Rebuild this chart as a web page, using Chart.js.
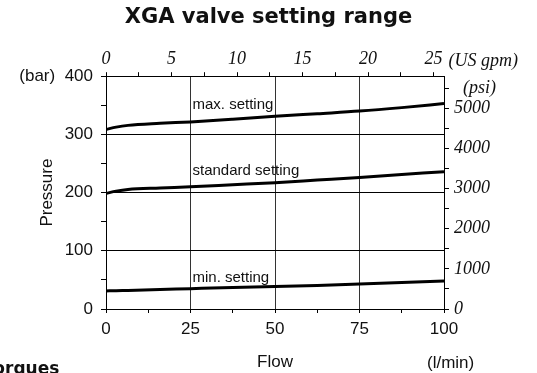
<!DOCTYPE html>
<html>
<head>
<meta charset="utf-8">
<title>XGA valve setting range</title>
<script src="https://cdn.jsdelivr.net/npm/chart.js@4.4.1/dist/chart.umd.min.js"></script>
<style>
  html, body { margin: 0; padding: 0; background: #fff; }
  #wrap { width: 537px; height: 373px; }
</style>
</head>
<body>
<div id="wrap"><canvas id="rangeChart" width="537" height="373"></canvas></div>
<script>
// Flow (l/min) sample points and pressure (bar) for each setting curve
const flowPoints = [0, 3, 6.5, 16, 25, 37.5, 50, 62.5, 75, 87.5, 100];
const maxSetting = [308.5, 312.5, 315.5, 319, 321.5, 326, 331, 335.5, 340, 346, 353];
const standardSetting = [198.5, 202.5, 205.5, 208, 210, 213.5, 217, 221.5, 226, 231, 236];
const minSetting = [31, 31.5, 32, 33.5, 35, 37, 38.5, 40.5, 43, 45.5, 48];

// Tick positions and the ones that carry a label
const flowTicks = [0, 12.5, 25, 37.5, 50, 62.5, 75, 87.5, 100];
const flowLabels = [0, 25, 50, 75, 100];
const barTicks = [0, 50, 100, 150, 200, 250, 300, 350, 400];
const barLabels = [0, 100, 200, 300, 400];
const gpmTicks = [0, 2.5, 5, 7.5, 10, 12.5, 15, 17.5, 20, 22.5, 25];
const gpmLabels = [0, 5, 10, 15, 20, 25];
const psiTicks = [0, 500, 1000, 1500, 2000, 2500, 3000, 3500, 4000, 4500, 5000, 5500];
const psiLabels = [0, 1000, 2000, 3000, 4000, 5000];
const gridFlow = [25, 50, 75];
const gridBar = [100, 200, 300];

// Secondary units: top axis as printed on the sheet, right axis from bar
const gpmAtMaxFlow = 25.8;
const psiAtMaxBar = 400 / 0.0689476;

// Curve captions, anchored in data units (flow, bar)
const curveNames = ['max. setting', 'standard setting', 'min. setting'];
const captionFlow = [25, 25, 25];
const captionBar = [343, 230, 47];

const INK = '#111';
const sans = '"Liberation Sans", Arial, Helvetica, sans-serif';
const serif = '"Liberation Serif", "Times New Roman", serif';

function toPoints(ys) {
    return flowPoints.map((x, i) => ({ x: x, y: ys[i] }));
}

function curve(label, ys) {
    return {
        label: label,
        data: toPoints(ys),
        borderColor: '#000',
        borderWidth: 3,
        pointRadius: 0,
        cubicInterpolationMode: 'monotone',
        fill: false,
        xAxisID: 'x',
        yAxisID: 'y'
    };
}

// replace generated ticks with a fixed list
function useTicks(values) {
    return function (scale) {
        scale.ticks = values.map(v => ({ value: v }));
    };
}

function fixed(size, horizontal) {
    return function (scale) {
        if (horizontal) scale.height = size; else scale.width = size;
    };
}

const captions = {
    id: 'captions',
    afterDraw(chart) {
        const { ctx, scales } = chart;
        ctx.save();
        ctx.fillStyle = INK;
        ctx.textAlign = 'left';
        ctx.textBaseline = 'alphabetic';

        ctx.font = '15px ' + sans;
        curveNames.forEach((name, i) => {
            ctx.fillText(name,
                scales.x.getPixelForValue(captionFlow[i]) + 2,
                scales.y.getPixelForValue(captionBar[i]));
        });

        ctx.font = '17px ' + sans;
        ctx.fillText('(l/min)', scales.x.right - 17, 368);

        ctx.font = 'italic 18px ' + serif;
        ctx.fillText('(US gpm)', scales.x2.getPixelForValue(25) + 15, 66);

        // heading of the next section, cut off by the page edge
        ctx.font = 'bold 17px "DejaVu Sans", Verdana, sans-serif';
        ctx.fillText('Torques', -16, 374);
        ctx.restore();
    }
};

new Chart(document.getElementById('rangeChart'), {
    type: 'line',
    data: {
        datasets: [
            curve('max. setting', maxSetting),
            curve('standard setting', standardSetting),
            curve('min. setting', minSetting)
        ]
    },
    options: {
        responsive: false,
        animation: false,
        devicePixelRatio: 1,
        layout: { padding: 0 },
        plugins: {
            legend: { display: false },
            tooltip: { enabled: false },
            title: {
                display: true,
                text: 'XGA valve setting range',
                color: INK,
                font: { family: '"DejaVu Sans", Verdana, sans-serif', size: 21, weight: 'bold', lineHeight: 1.2 },
                padding: { top: 5, bottom: 6 }
            }
        },
        scales: {
            x: {
                type: 'linear',
                position: 'bottom',
                min: 0,
                max: 100,
                afterBuildTicks: useTicks(flowTicks),
                afterFit: fixed(64, true),
                border: { display: true, color: '#000', width: 1 },
                grid: {
                    color: ctx => gridFlow.includes(ctx.tick && ctx.tick.value) ? '#333' : 'rgba(0,0,0,0)',
                    tickColor: '#000',
                    tickLength: 4,
                    lineWidth: 1
                },
                ticks: {
                    autoSkip: false,
                    maxRotation: 0,
                    color: INK,
                    padding: 6,
                    font: { family: sans, size: 17 },
                    callback: v => flowLabels.includes(v) ? String(v) : ''
                },
                title: {
                    display: true,
                    text: 'Flow',
                    color: INK,
                    font: { family: sans, size: 17 },
                    padding: { top: 0, bottom: 0 }
                }
            },
            x2: {
                type: 'linear',
                position: 'top',
                min: 0,
                max: gpmAtMaxFlow,
                afterBuildTicks: useTicks(gpmTicks),
                afterFit: fixed(40, true),
                border: { display: true, color: '#000', width: 1 },
                grid: { drawOnChartArea: false, color: '#000', tickLength: 4 },
                ticks: {
                    autoSkip: false,
                    maxRotation: 0,
                    color: INK,
                    padding: 2,
                    font: { family: serif, size: 18, style: 'italic' },
                    callback: v => gpmLabels.includes(v) ? String(v) : ''
                }
            },
            y: {
                type: 'linear',
                position: 'left',
                min: 0,
                max: 400,
                afterBuildTicks: useTicks(barTicks),
                afterFit: fixed(106, false),
                border: { display: true, color: '#000', width: 1 },
                grid: {
                    color: ctx => gridBar.includes(ctx.tick && ctx.tick.value) ? '#000' : 'rgba(0,0,0,0)',
                    tickColor: '#000',
                    tickLength: 5,
                    lineWidth: 1
                },
                ticks: {
                    autoSkip: false,
                    color: INK,
                    padding: 8,
                    font: { family: sans, size: 17 },
                    callback: v => v === 400 ? '(bar)  400' : (barLabels.includes(v) ? String(v) : '')
                },
                title: {
                    display: true,
                    text: 'Pressure',
                    color: INK,
                    font: { family: sans, size: 17 },
                    padding: { top: 37, bottom: 0 }
                }
            },
            y2: {
                type: 'linear',
                position: 'right',
                min: 0,
                max: psiAtMaxBar,
                afterBuildTicks: useTicks(psiTicks),
                afterFit: fixed(93, false),
                border: { display: true, color: '#000', width: 1 },
                grid: { drawOnChartArea: false, color: '#000', tickLength: 5 },
                ticks: {
                    autoSkip: false,
                    color: INK,
                    padding: 5,
                    font: { family: serif, size: 18, style: 'italic' },
                    callback: v => v === 5500 ? '  (psi)' : (psiLabels.includes(v) ? String(v) : '')
                }
            }
        }
    },
    plugins: [captions]
});
</script>
</body>
</html>
